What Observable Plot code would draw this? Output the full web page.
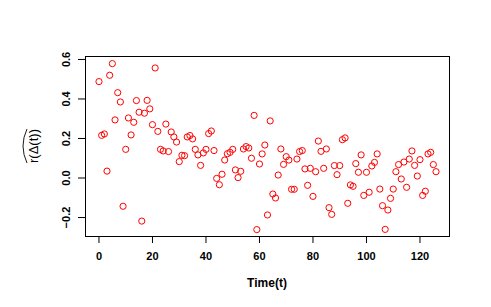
<!DOCTYPE html>
<html>
<head>
<meta charset="utf-8">
<script src="https://cdn.jsdelivr.net/npm/d3@7"></script>
<script src="https://cdn.jsdelivr.net/npm/@observablehq/plot@0.6"></script>
<style>
  html, body { margin: 0; padding: 0; background: #fff; }
  #chart { width: 491px; height: 307px; }
  svg { font-family: "Liberation Sans", Arial, Helvetica, sans-serif; }
</style>
</head>
<body>
<div id="chart"></div>
<script>
const time = [0,1,2,3,4,5,6,7,8,9,10,11,12,13,14,15,16,17,18,19,20,21,22,23,24,25,26,27,28,29,30,
  31,32,33,34,35,36,37,38,39,40,41,42,43,44,45,46,47,48,49,50,51,52,53,54,55,56,57,58,59,60,
  61,62,63,64,65,66,67,68,69,70,71,72,73,74,75,76,77,78,79,80,81,82,83,84,85,86,87,88,89,90,
  91,92,93,94,95,96,97,98,99,100,101,102,103,104,105,106,107,108,109,110,111,112,113,114,115,116,117,118,119,120,
  121,122,123,124,125,126];
const rDelta = [0.488,0.216,0.223,0.035,0.520,0.579,0.294,0.432,0.385,-0.143,
  0.145,0.304,0.218,0.282,0.392,0.333,-0.218,0.328,0.393,0.350,
  0.270,0.557,0.236,0.145,0.137,0.273,0.134,0.233,0.208,0.182,
  0.083,0.115,0.113,0.208,0.215,0.198,0.145,0.117,0.064,0.127,
  0.145,0.225,0.238,0.139,-0.002,-0.034,0.019,0.091,0.123,0.130,
  0.145,0.041,0.002,0.034,0.147,0.159,0.152,0.100,0.317,-0.261,
  0.071,0.122,0.167,-0.187,0.289,-0.081,-0.101,0.015,0.147,0.069,
  0.108,0.091,-0.057,-0.057,0.096,0.134,0.139,0.046,-0.037,0.049,
  -0.093,0.032,0.187,0.135,0.049,0.147,-0.150,-0.184,0.063,0.017,
  0.063,0.194,0.203,-0.128,-0.035,-0.042,0.073,0.029,0.117,-0.088,
  0.029,-0.072,0.061,0.079,0.122,-0.056,-0.140,-0.260,-0.162,-0.103,
  -0.056,0.032,0.068,-0.005,0.081,-0.047,0.096,0.137,0.064,0.010,
  0.093,-0.088,-0.067,0.122,0.130,0.068,0.032];
const xTicks = [0,20,40,60,80,100,120];
const yTicks = [-0.2,0.0,0.2,0.4,0.6];
const yTickLabels = ["\u22120.2","0.0","0.2","0.4","0.6"];
const xLabel = "Time(t)";
const yLabel = "r(\u0394(t))";

const data = time.map((t, i) => ({t, v: rDelta[i]}));
const yLab = yTicks.map((y, i) => ({y, s: yTickLabels[i]}));

const ML = 85, MR = 42, MT = 56, MB = 71, W = 491, H = 307;

const plot = Plot.plot({
  width: W, height: H,
  marginLeft: ML, marginRight: MR, marginTop: MT, marginBottom: MB,
  style: {fontFamily: '"Liberation Sans", Arial, Helvetica, sans-serif', background: "#fff", color: "#000"},
  x: {domain: [-5.04, 131.04]},
  y: {domain: [-0.296, 0.615]},
  marks: [
    Plot.frame({stroke: "#000", strokeWidth: 1}),
    Plot.axisX({ticks: xTicks, tickSize: 7, tickPadding: 9, fontSize: 11, fontWeight: "bold", label: null, tickFormat: d => String(d)}),
    Plot.axisY({ticks: yTicks, tickSize: 7, tickFormat: () => "", label: null}),
    Plot.text(yLab, {y: "y", text: "s", frameAnchor: "left", dx: -19, rotate: -90, fontSize: 11, fontWeight: "bold", textAnchor: "middle", lineAnchor: "middle"}),
    Plot.dot(data, {x: "t", y: "v", r: 3.1, stroke: "#ff0000", fill: "none", strokeWidth: 1})
  ]
});

const svg = d3.select(plot);
const cx = (ML + (W - MR)) / 2;
svg.append("text")
  .attr("x", cx).attr("y", 287)
  .attr("text-anchor", "middle")
  .attr("font-size", 12).attr("font-weight", "bold")
  .attr("fill", "#000")
  .text(xLabel);

const cy = (MT + (H - MB)) / 2;
const g = svg.append("g").attr("transform", `translate(33,${cy}) rotate(-90)`);
g.append("text")
  .attr("x", 0).attr("y", 5)
  .attr("text-anchor", "middle")
  .attr("font-size", 13)
  .attr("fill", "#000")
  .text(yLabel);
g.append("path")
  .attr("d", "M-17,-6 Q0,-14 17,-6")
  .attr("fill", "none").attr("stroke", "#000").attr("stroke-width", 0.9);

document.getElementById("chart").appendChild(plot);
</script>
</body>
</html>
